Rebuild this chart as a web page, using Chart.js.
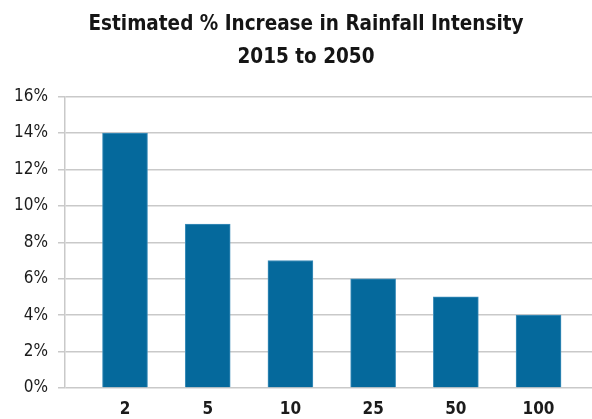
<!DOCTYPE html>
<html>
<head>
<meta charset="utf-8">
<script src="https://cdn.jsdelivr.net/npm/chart.js@4"></script>
<style>
  html, body { margin: 0; padding: 0; background: #fff; overflow: hidden; }
  #wrap { width: 612px; height: 419px; }
</style>
</head>
<body>
<div id="wrap"><canvas id="chart"></canvas></div>
<script>
// return periods (years) and estimated increase in rainfall intensity (%)
const returnPeriods = ['2', '5', '10', '25', '50', '100'];
const increasePct = [14, 9, 7, 6, 5, 4];
const yTicks = [0, 2, 4, 6, 8, 10, 12, 14, 16];
const titleLines = ['Estimated % Increase in Rainfall Intensity', '2015 to 2050'];

const barColor = '#05699c';
const gridColor = '#c9c9c9';
const narrowFont = '"DejaVu Sans Condensed", "Liberation Sans Narrow", "Liberation Sans", sans-serif';

// ask the canvas for condensed faces where the family supports it
const condensed = {
    id: 'condensed',
    beforeDraw: (chart) => { chart.ctx.fontStretch = 'condensed'; }
};

const ctx = document.getElementById('chart').getContext('2d');
new Chart(ctx, {
    type: 'bar',
    plugins: [condensed],
    data: {
        datasets: [{
            data: increasePct.map((v, i) => ({ x: i, y: v })),
            backgroundColor: barColor,
            borderColor: '#3f8fbb',
            borderWidth: 1,
            barThickness: 45
        }]
    },
    options: {
        responsive: true,
        maintainAspectRatio: false,
        animation: false,
        layout: { padding: { left: 0, right: 0, top: 8, bottom: 0 } },
        plugins: {
            legend: { display: false },
            tooltip: { enabled: false },
            title: {
                display: true,
                text: titleLines,
                color: '#151515',
                font: { family: narrowFont, weight: 'bold', size: 20.5, lineHeight: 1.6 },
                padding: { top: 0, bottom: 23 }
            }
        },
        scales: {
            x: {
                type: 'linear',
                offset: false,
                min: -0.7255,
                max: 5.888,
                grid: { display: false },
                border: { display: false },
                afterBuildTicks: (scale) => {
                    scale.ticks = returnPeriods.map((_, i) => ({ value: i }));
                },
                afterFit: (scale) => { scale.height = 31; },
                ticks: {
                    color: '#1b1b1b',
                    padding: 3,
                    font: { family: narrowFont, weight: 'bold', size: 17 },
                    callback: (v) => returnPeriods[v]
                }
            },
            y: {
                min: 0,
                max: 16,
                afterBuildTicks: (scale) => {
                    scale.ticks = yTicks.map(v => ({ value: v }));
                },
                afterFit: (scale) => { scale.width = 65; },
                grid: { color: gridColor, lineWidth: 1.5, tickLength: 7 },
                border: { color: gridColor, width: 1.5 },
                ticks: {
                    color: '#1b1b1b',
                    padding: 10,
                    font: { family: narrowFont, size: 17 },
                    callback: (v) => v + '%'
                }
            }
        }
    }
});
</script>
</body>
</html>
